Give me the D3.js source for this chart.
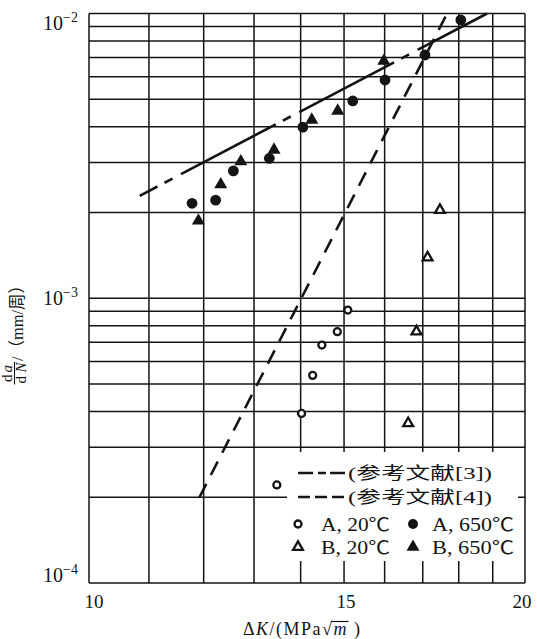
<!DOCTYPE html>
<html><head><meta charset="utf-8">
<script src="https://cdn.jsdelivr.net/npm/d3@7"></script>
<style>html,body{margin:0;padding:0;background:#fff;} svg{display:block;}</style>
</head><body>
<svg id="c" width="537" height="639"></svg>
<script>
// ---- data ----
const xGridValues = [10, 11, 12, 13, 14, 15, 16, 17, 18, 19, 20];
const yGridValues = [1e-4, 2e-4, 3e-4, 4e-4, 5e-4, 6e-4, 7e-4, 8e-4, 9e-4,
                     1e-3, 2e-3, 3e-3, 4e-3, 5e-3, 6e-3, 7e-3, 8e-3, 9e-3, 1e-2];
const xTickValues = [10, 15, 20];
const yTickValues = [1e-2, 1e-3, 1e-4];
const yTickExponents = ["−2", "−3", "−4"];

// A, 20℃ (open circles)
const a20K = [13.48, 14.02, 14.27, 14.48, 14.84, 15.09];
const a20R = [2.21e-4, 3.94e-4, 5.36e-4, 6.85e-4, 7.63e-4, 9.09e-4];
// A, 650℃ (filled circles)
const a650K = [11.78, 12.23, 12.58, 13.32, 14.05, 15.21, 16.01, 17.06, 18.06];
const a650R = [2.155e-3, 2.21e-3, 2.80e-3, 3.10e-3, 3.99e-3, 4.93e-3, 5.84e-3, 7.15e-3, 9.49e-3];
// B, 20℃ (open triangles)
const b20K = [16.61, 16.83, 17.13, 17.47];
const b20R = [3.64e-4, 7.64e-4, 1.39e-3, 2.04e-3];
// B, 650℃ (filled triangles)
const b650K = [11.90, 12.33, 12.73, 13.42, 14.25, 14.85, 15.98];
const b650R = [1.87e-3, 2.51e-3, 3.02e-3, 3.32e-3, 4.23e-3, 4.55e-3, 6.81e-3];

// reference lines
const ref3K = [10.84, 18.83];
const ref3R = [2.29e-3, 1.0e-2];
const ref4K = [11.92, 17.67];
const ref4R = [2.0e-4, 1.0e-2];

const legendLineLabels = ["(参考文献[3])", "(参考文献[4])"];
const legendSymLabels = [["A, 20℃", "A, 650℃"], ["B, 20℃", "B, 650℃"]];

// ---- drawing ----
const svg = d3.select("#c");
const serif = "'Liberation Serif','Times New Roman','Noto Sans CJK SC',serif";
const ink = "#141414";

const x = d3.scaleLog().domain([10, 20]).range([89, 525]);
const y = d3.scaleLog().domain([1e-4, 1e-2]).range([583, 13.5]);

svg.append("rect").attr("width", 537).attr("height", 639).attr("fill", "#fff");

const grid = svg.append("g").attr("stroke", ink).attr("stroke-width", 1.5).attr("fill", "none");
grid.selectAll("line.v").data(xGridValues).join("line").attr("class", "v")
  .attr("x1", d => x(d)).attr("x2", d => x(d))
  .attr("y1", y.range()[0]).attr("y2", y.range()[1]);
grid.selectAll("line.h").data(yGridValues).join("line").attr("class", "h")
  .attr("y1", d => y(d)).attr("y2", d => y(d))
  .attr("x1", x.range()[0]).attr("x2", x.range()[1]);

// legend background (covers gridlines)
const lg = svg.append("g");
lg.append("rect").attr("x", 287).attr("y", 452).attr("width", 231).attr("height", 109).attr("fill", "#fff");

// reference lines
const line = d3.line().x(d => x(d[0])).y(d => y(d[1]));
svg.append("path").datum(d3.zip(ref3K, ref3R)).attr("d", line)
  .attr("fill", "none").attr("stroke", ink).attr("stroke-width", 2.6)
  .attr("stroke-dasharray", "107,8,9,9.6").attr("stroke-dashoffset", 87);
svg.append("path").datum(d3.zip(ref4K, ref4R)).attr("d", line)
  .attr("fill", "none").attr("stroke", ink).attr("stroke-width", 2.6)
  .attr("stroke-dasharray", "15,10");

// markers
const triFilled = d3.symbol().type(d3.symbolTriangle).size(74);
const triOpen = d3.symbol().type(d3.symbolTriangle).size(42);

svg.append("g").selectAll("circle").data(d3.zip(a20K, a20R)).join("circle")
  .attr("cx", d => x(d[0])).attr("cy", d => y(d[1])).attr("r", 3.5)
  .attr("fill", "#fff").attr("stroke", ink).attr("stroke-width", 2.3);
svg.append("g").selectAll("circle").data(d3.zip(a650K, a650R)).join("circle")
  .attr("cx", d => x(d[0])).attr("cy", d => y(d[1])).attr("r", 5.4)
  .attr("fill", ink);
svg.append("g").selectAll("path").data(d3.zip(b20K, b20R)).join("path")
  .attr("transform", d => `translate(${x(d[0])},${y(d[1])})`).attr("d", triOpen)
  .attr("fill", "#fff").attr("stroke", ink).attr("stroke-width", 2.3);
svg.append("g").selectAll("path").data(d3.zip(b650K, b650R)).join("path")
  .attr("transform", d => `translate(${x(d[0])},${y(d[1])})`).attr("d", triFilled)
  .attr("fill", ink);

// y tick labels
const yOff = [10, 0, -8];
yTickValues.forEach((v, i) => {
  const t = svg.append("text").attr("x", 78).attr("y", y(v) + yOff[i] + 6.5)
    .attr("text-anchor", "end").attr("font-family", serif).attr("font-size", 20).attr("fill", ink);
  t.append("tspan").text("10");
  t.append("tspan").attr("dy", -8).attr("font-size", 14).text(yTickExponents[i]);
});

// x tick labels
xTickValues.forEach((v, i) => {
  svg.append("text").attr("x", x(v) + (i === 0 ? 5 : i === 1 ? 2 : -3)).attr("y", 608)
    .attr("text-anchor", "middle").attr("font-family", serif).attr("font-size", 19).attr("fill", ink)
    .text(v);
});

// x axis title
const xt = svg.append("text").attr("x", 243).attr("y", 635)
  .attr("font-family", serif).attr("font-size", 18).attr("fill", ink)
  .attr("textLength", 117).attr("lengthAdjust", "spacing");
xt.append("tspan").text("Δ");
xt.append("tspan").attr("font-style", "italic").text("K");
xt.append("tspan").text("/(MPa");
xt.append("tspan").text("√");
xt.append("tspan").attr("font-style", "italic").text("m");
xt.append("tspan").text(" )");
{
  const s = xt.text();
  const sq = xt.node().getExtentOfChar(s.indexOf("√"));
  const m = xt.node().getExtentOfChar(s.lastIndexOf("m"));
  svg.append("line").attr("x1", sq.x + sq.width - 1).attr("x2", m.x + m.width + 2)
    .attr("y1", sq.y + 2.5).attr("y2", sq.y + 2.5).attr("stroke", ink).attr("stroke-width", 1.2);
}

// y axis title (rotated)
const yt = svg.append("g").attr("transform", "translate(17,338) rotate(-90)")
  .attr("font-family", serif).attr("fill", ink);
const fr = yt.append("text").attr("x", -44).attr("y", -5).attr("font-size", 15)
  .attr("textLength", 17).attr("lengthAdjust", "spacing");
fr.append("tspan").text("d");
fr.append("tspan").attr("font-style", "italic").text("a");
const fr2 = yt.append("text").attr("x", -45.5).attr("y", 8.5).attr("font-size", 15)
  .attr("textLength", 21).attr("lengthAdjust", "spacing");
fr2.append("tspan").text("d");
fr2.append("tspan").attr("font-style", "italic").text("N");
yt.append("line").attr("x1", -46.5).attr("x2", -24).attr("y1", -2.5).attr("y2", -2.5)
  .attr("stroke", ink).attr("stroke-width", 1.1);
yt.append("text").attr("x", -23).attr("y", 6).attr("font-size", 17)
  .attr("textLength", 84).attr("lengthAdjust", "spacingAndGlyphs").text("/（mm/周）");

// legend contents
const lineRowsY = [473, 497];
lg.append("line").attr("x1", 298).attr("x2", 347).attr("y1", lineRowsY[0]).attr("y2", lineRowsY[0])
  .attr("stroke", ink).attr("stroke-width", 2.6).attr("stroke-dasharray", "15,5,8,4");
lg.append("line").attr("x1", 298).attr("x2", 344).attr("y1", lineRowsY[1]).attr("y2", lineRowsY[1])
  .attr("stroke", ink).attr("stroke-width", 2.6).attr("stroke-dasharray", "12,5");
legendLineLabels.forEach((s, i) => {
  lg.append("text").attr("x", 348).attr("y", lineRowsY[i] + 6).attr("font-family", serif)
    .attr("font-size", 17).attr("fill", ink).attr("textLength", 144).attr("lengthAdjust", "spacingAndGlyphs").text(s);
});
const symRowsY = [524, 547];
lg.append("circle").attr("cx", 298).attr("cy", symRowsY[0]).attr("r", 3.5)
  .attr("fill", "#fff").attr("stroke", ink).attr("stroke-width", 2.3);
lg.append("circle").attr("cx", 413).attr("cy", symRowsY[0]).attr("r", 5).attr("fill", ink);
lg.append("path").attr("transform", `translate(298,${symRowsY[1]})`).attr("d", triOpen)
  .attr("fill", "#fff").attr("stroke", ink).attr("stroke-width", 2.3);
lg.append("path").attr("transform", `translate(413,${symRowsY[1]})`).attr("d", triFilled).attr("fill", ink);
legendSymLabels.forEach((row, i) => {
  lg.append("text").attr("x", 321).attr("y", symRowsY[i] + 7).attr("font-family", serif)
    .attr("font-size", 18).attr("fill", ink).attr("textLength", 69).attr("lengthAdjust", "spacingAndGlyphs").text(row[0]);
  lg.append("text").attr("x", 432).attr("y", symRowsY[i] + 7).attr("font-family", serif)
    .attr("font-size", 18).attr("fill", ink).attr("textLength", 82).attr("lengthAdjust", "spacingAndGlyphs").text(row[1]);
});
</script>
</body></html>
